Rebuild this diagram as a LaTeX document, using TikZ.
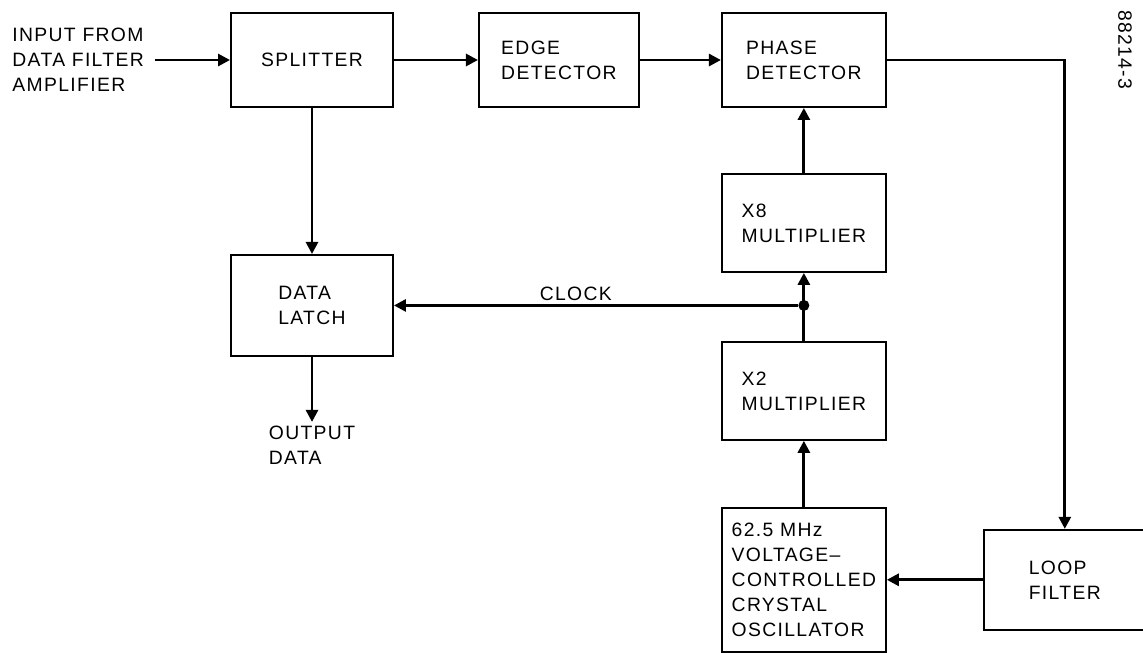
\documentclass[tikz,border=0pt]{standalone}
\usepackage{fontspec}
\setmainfont{Liberation Sans}[LetterSpace=7]
\usepackage{tikz}
\usetikzlibrary{arrows.meta,positioning,calc}

\begin{document}
\begin{tikzpicture}[
    block/.style={draw=black,line width=1.1pt,minimum width=32.4mm,
      minimum height=18.8mm,align=left,inner sep=2pt,
      font=\fontsize{11}{14.2}\selectfont},
    lbl/.style={align=left,inner sep=2pt,font=\fontsize{11}{14.2}\selectfont},
    flow/.style={-{Triangle[length=2.4mm,width=2.4mm]},line width=1.6pt},
    junction/.style={circle,fill=black,inner sep=0pt,minimum size=2.2mm}
  ]
    \useasboundingbox (0,0) rectangle (22.86,-13.04);
    \node[block] (splitter) at (6.24,-1.2) {SPLITTER};
    \node[block,minimum width=32mm,right=16.8mm of splitter] (edge) {EDGE\\DETECTOR};
    \node[block,minimum width=32.8mm,right=16.2mm of edge] (phase) {PHASE\\DETECTOR};
    \node[block,minimum width=32.8mm,minimum height=19.6mm,below=13mm of phase] (x8) {X8\\MULTIPLIER};
    \node[block,minimum width=32.8mm,minimum height=19.6mm,below=13.6mm of x8] (x2) {X2\\MULTIPLIER};
    \node[block,minimum width=32.8mm,minimum height=28.8mm,below=13.2mm of x2] (vcxo)
      {62.5 MHz\\VOLTAGE--\\CONTROLLED\\CRYSTAL\\OSCILLATOR};
    \node[block,minimum height=20mm,right=19.2mm of vcxo] (loop) {LOOP\\FILTER};
    \node[block,minimum height=20.2mm,below=29.2mm of splitter] (latch) {DATA\\LATCH};
    \node[lbl,below=13mm of latch] (out) {OUTPUT\\DATA};
    \node[lbl,inner xsep=6pt,anchor=west] (input) at (0.03,-1.2) {INPUT FROM\\DATA FILTER\\AMPLIFIER};
    \node[lbl,rotate=-90] (code) at (22.5,-1.0) {88214-3};
    \node[junction] (tap) at (x8.south |- latch.east) {};
    \draw[flow] (input.east) -- (splitter);
    \draw[flow] (splitter) -- (edge);
    \draw[flow] (edge) -- (phase);
    \draw[flow] (phase.east) -| (loop.north);
    \draw[flow] (loop) -- (vcxo);
    \draw[flow] (vcxo) -- (x2);
    \draw[flow] (x2) -- (x8);
    \draw[flow] (x8) -- (phase);
    \draw[flow] (tap) -- node[lbl,above,pos=0.55]{CLOCK} (latch.east);
    \draw[flow] (splitter) -- (latch);
    \draw[flow] (latch) -- (out);
  \end{tikzpicture}
\end{document}
